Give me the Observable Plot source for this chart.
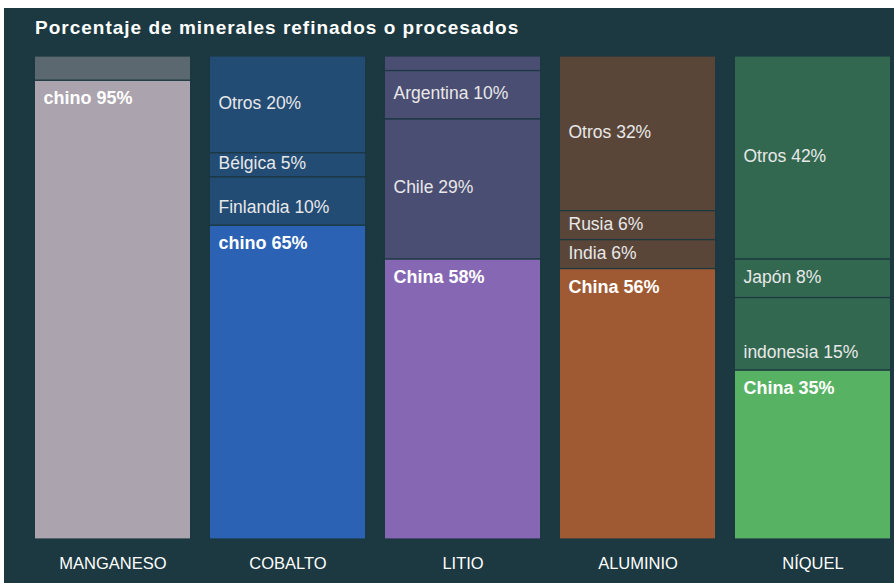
<!DOCTYPE html>
<html>
<head>
<meta charset="utf-8">
<script src="https://cdn.jsdelivr.net/npm/d3@7"></script>
<script src="https://cdn.jsdelivr.net/npm/@observablehq/plot@0.6"></script>
<style>
  html, body { margin: 0; padding: 0; background: #ffffff; }
  #panel {
    position: absolute; left: 4px; top: 8px; width: 890px; height: 575px;
    background: #1c3840; overflow: hidden;
    font-family: "Liberation Sans", Arial, sans-serif;
  }
  #title {
    height: 40px; line-height: 40px; padding-left: 31px;
    color: #ffffff; font-weight: bold; font-size: 19px; letter-spacing: 1px;
  }
</style>
</head>
<body>
<div id="panel">
  <div id="title">Porcentaje de minerales refinados o procesados</div>
  <div id="chart"></div>
</div>
<script>
// Data (bottom to top in each column)
const minerals = ["MANGANESO", "COBALTO", "LITIO", "ALUMINIO", "NÍQUEL"];
const countries = [
  ["chino", ""],
  ["chino", "Finlandia", "Bélgica", "Otros"],
  ["China", "Chile", "Argentina", ""],
  ["China", "India", "Rusia", "Otros"],
  ["China", "indonesia", "Japón", "Otros"]
];
const shares = [
  [95, 5],
  [65, 10, 5, 20],
  [58, 29, 10, 3],
  [56, 6, 6, 32],
  [35, 15, 8, 42]
];
const chinaColors = ["#aba3ae", "#2b62b4", "#8667b3", "#a05a33", "#58b263"];
const otherColors = ["#5b6870", "#234c75", "#4b4e73", "#5a4639", "#336850"];
const bottomLabelled = new Set(["Finlandia", "indonesia"]);

const bg = "#1c3840";
const rows = [];
minerals.forEach((m, i) => {
  let acc = 0;
  countries[i].forEach((c, j) => {
    const v = shares[i][j];
    rows.push({
      mineral: m, country: c, value: v, y1: acc, y2: acc + v,
      china: j === 0,
      fill: j === 0 ? chinaColors[i] : otherColors[i],
      label: c ? `${c} ${v}%` : ""
    });
    acc += v;
  });
});

const chinaRows = rows.filter(d => d.china);
const midRows = rows.filter(d => !d.china && d.label && !bottomLabelled.has(d.country));
const botRows = rows.filter(d => !d.china && bottomLabelled.has(d.country));

const labelFont = "Liberation Sans, Arial, sans-serif";
const dxLabel = -77.5 + 8;

const chart = Plot.plot({
  width: 890,
  height: 535,
  marginTop: 8,
  marginBottom: 44,
  marginLeft: 31,
  marginRight: 4,
  style: { background: "transparent", fontFamily: labelFont },
  x: { domain: minerals, paddingInner: 20 / 175, paddingOuter: 0, round: false, label: null, tickSize: 0, tickPadding: 18 },
  y: { domain: [0, 100], axis: null },
  marks: [
    Plot.barY(rows, { x: "mineral", y1: "y1", y2: "y2", fill: "fill", stroke: bg, strokeWidth: 1.2, insetLeft: -0.6, insetRight: -0.6 }),
    Plot.text(midRows, {
      x: "mineral", y: d => (d.y1 + d.y2) / 2, text: "label",
      textAnchor: "start", dx: dxLabel, dy: -1.5, fill: "#e8e8e8", fontSize: 17.5
    }),
    Plot.text(botRows, {
      x: "mineral", y: "y1", text: "label",
      textAnchor: "start", dx: dxLabel, dy: -18, fill: "#e8e8e8", fontSize: 17.5
    }),
    Plot.text(chinaRows, {
      x: "mineral", y: "y2", text: "label",
      textAnchor: "start", dx: dxLabel, dy: 18, fill: "#ffffff", fontSize: 18, fontWeight: "bold"
    })
  ]
});
d3.select(chart).selectAll("g[aria-label='x-axis tick label']")
  .attr("fill", "#ffffff").style("font-size", "16.5px");
document.getElementById("chart").appendChild(chart);
</script>
</body>
</html>
